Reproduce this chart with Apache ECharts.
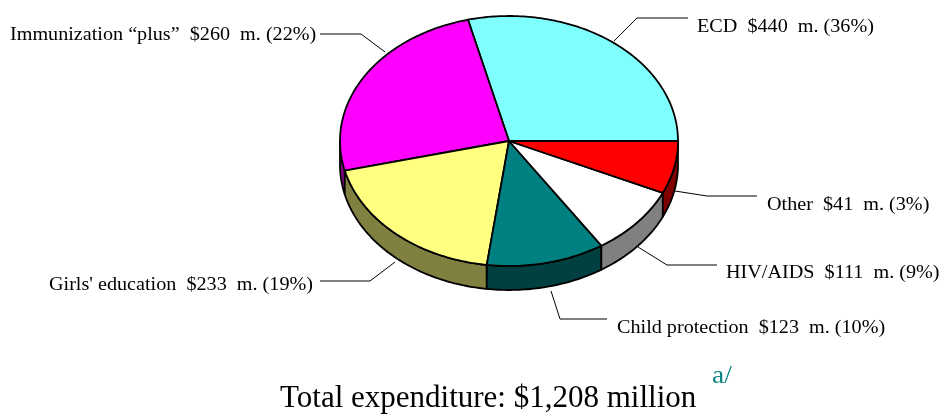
<!DOCTYPE html>
<html><head><meta charset="utf-8">
<script src="https://cdn.jsdelivr.net/npm/echarts@6/dist/echarts.min.js"></script>
<style>html,body{margin:0;padding:0;background:#fff}#c{width:943px;height:420px}</style>
</head><body><div id="c"></div>
<script>
// ---- data ----
const categories = ['ECD', 'Immunization \u201cplus\u201d', "Girls' education", 'Child protection', 'HIV/AIDS', 'Other'];
const amounts = [440, 260, 233, 123, 111, 41];           // $ million, as labelled
const percents = [36, 22, 19, 10, 9, 3];                 // % as labelled
const sliceShares = [28.9, 24.9, 19.1, 11.3, 9.0, 6.8];  // share of the pie as drawn (%)
const totalLabel = 'Total expenditure: $1,208 million';
const noteLabel = 'a/';

// ---- styles / layout ----
const topColors = ['#80FFFF', '#FF00FF', '#FFFF80', '#008080', '#FFFFFF', '#FF0000'];
const sideColors = ['#408080', '#800080', '#808040', '#004040', '#808080', '#800000'];
const PIE = {cx: 509, cy: 141, rx: 169, ry: 125, depth: 24};
const labelLayout = [
  {x: 697, y: 27,  line: [[614, 41], [637, 18], [688, 18]]},
  {x: 10,  y: 35,  line: [[385, 52], [361, 34], [320, 34]]},
  {x: 49,  y: 285, line: [[395, 262], [370, 281], [320, 281]]},
  {x: 617, y: 328, line: [[551, 291], [560, 319], [607, 319]]},
  {x: 726, y: 273, line: [[638, 247], [667, 265], [717, 265]]},
  {x: 767, y: 205, line: [[675, 191], [707, 196], [757, 196]]}
];

const startShares = [];
let acc = 0;
sliceShares.forEach(s => { startShares.push(acc); acc += s; });
const total = acc;

function pt(t, dy) {
  const r = t * Math.PI / 180;
  return [PIE.cx + PIE.rx * Math.cos(r), PIE.cy - PIE.ry * Math.sin(r) + (dy || 0)];
}
function arc(a1, a2, dy) {
  const pts = [];
  const n = Math.max(2, Math.ceil(Math.abs(a2 - a1)));
  for (let k = 0; k <= n; k++) pts.push(pt(a1 + (a2 - a1) * k / n, dy));
  return pts;
}

const graphics = [];
labelLayout.forEach((L, i) => {
  graphics.push({type: 'polyline', shape: {points: L.line}, style: {stroke: '#000', lineWidth: 1, fill: null}});
  graphics.push({
    type: 'text', x: L.x, y: L.y, scaleX: 1.12,
    style: {
      text: categories[i] + '  $' + amounts[i] + '  m. (' + percents[i] + '%)',
      x: 0, y: 0, fill: '#000', font: '18px "Liberation Serif"',
      align: 'left', verticalAlign: 'middle'
    }
  });
});
graphics.push({type: 'text', x: 280, y: 399,
  style: {text: totalLabel, x: 0, y: 0, fill: '#000', font: '31px "Liberation Serif"', align: 'left', verticalAlign: 'middle'}});
graphics.push({type: 'text', x: 712, y: 376, scaleX: 1.1,
  style: {text: noteLabel, x: 0, y: 0, fill: '#0b8585', font: '25px "Liberation Serif"', align: 'left', verticalAlign: 'middle'}});

const chart = echarts.init(document.getElementById('c'));
chart.setOption({
  animation: false,
  backgroundColor: '#fff',
  series: [{
    type: 'custom',
    coordinateSystem: 'none',
    data: sliceShares.map((v, i) => ({value: v, name: categories[i]})),
    renderItem: function (params, api) {
      const i = params.dataIndex;
      const a1 = startShares[i] / total * 360;
      const a2 = a1 + api.value(0) / total * 360;
      const children = [];
      const s = Math.max(a1, 180), e = Math.min(a2, 360);
      if (e > s) {
        children.push({type: 'polygon',
          shape: {points: arc(s, e, 0).concat(arc(e, s, PIE.depth))},
          style: {fill: sideColors[i], stroke: '#000', lineWidth: 1.8, lineJoin: 'round'}});
      }
      children.push({type: 'polygon',
        shape: {points: [[PIE.cx, PIE.cy]].concat(arc(a1, a2, 0))},
        style: {fill: topColors[i], stroke: '#000', lineWidth: 1.8, lineJoin: 'round'}});
      return {type: 'group', children: children};
    }
  }],
  graphic: graphics
});
</script>
</body></html>
